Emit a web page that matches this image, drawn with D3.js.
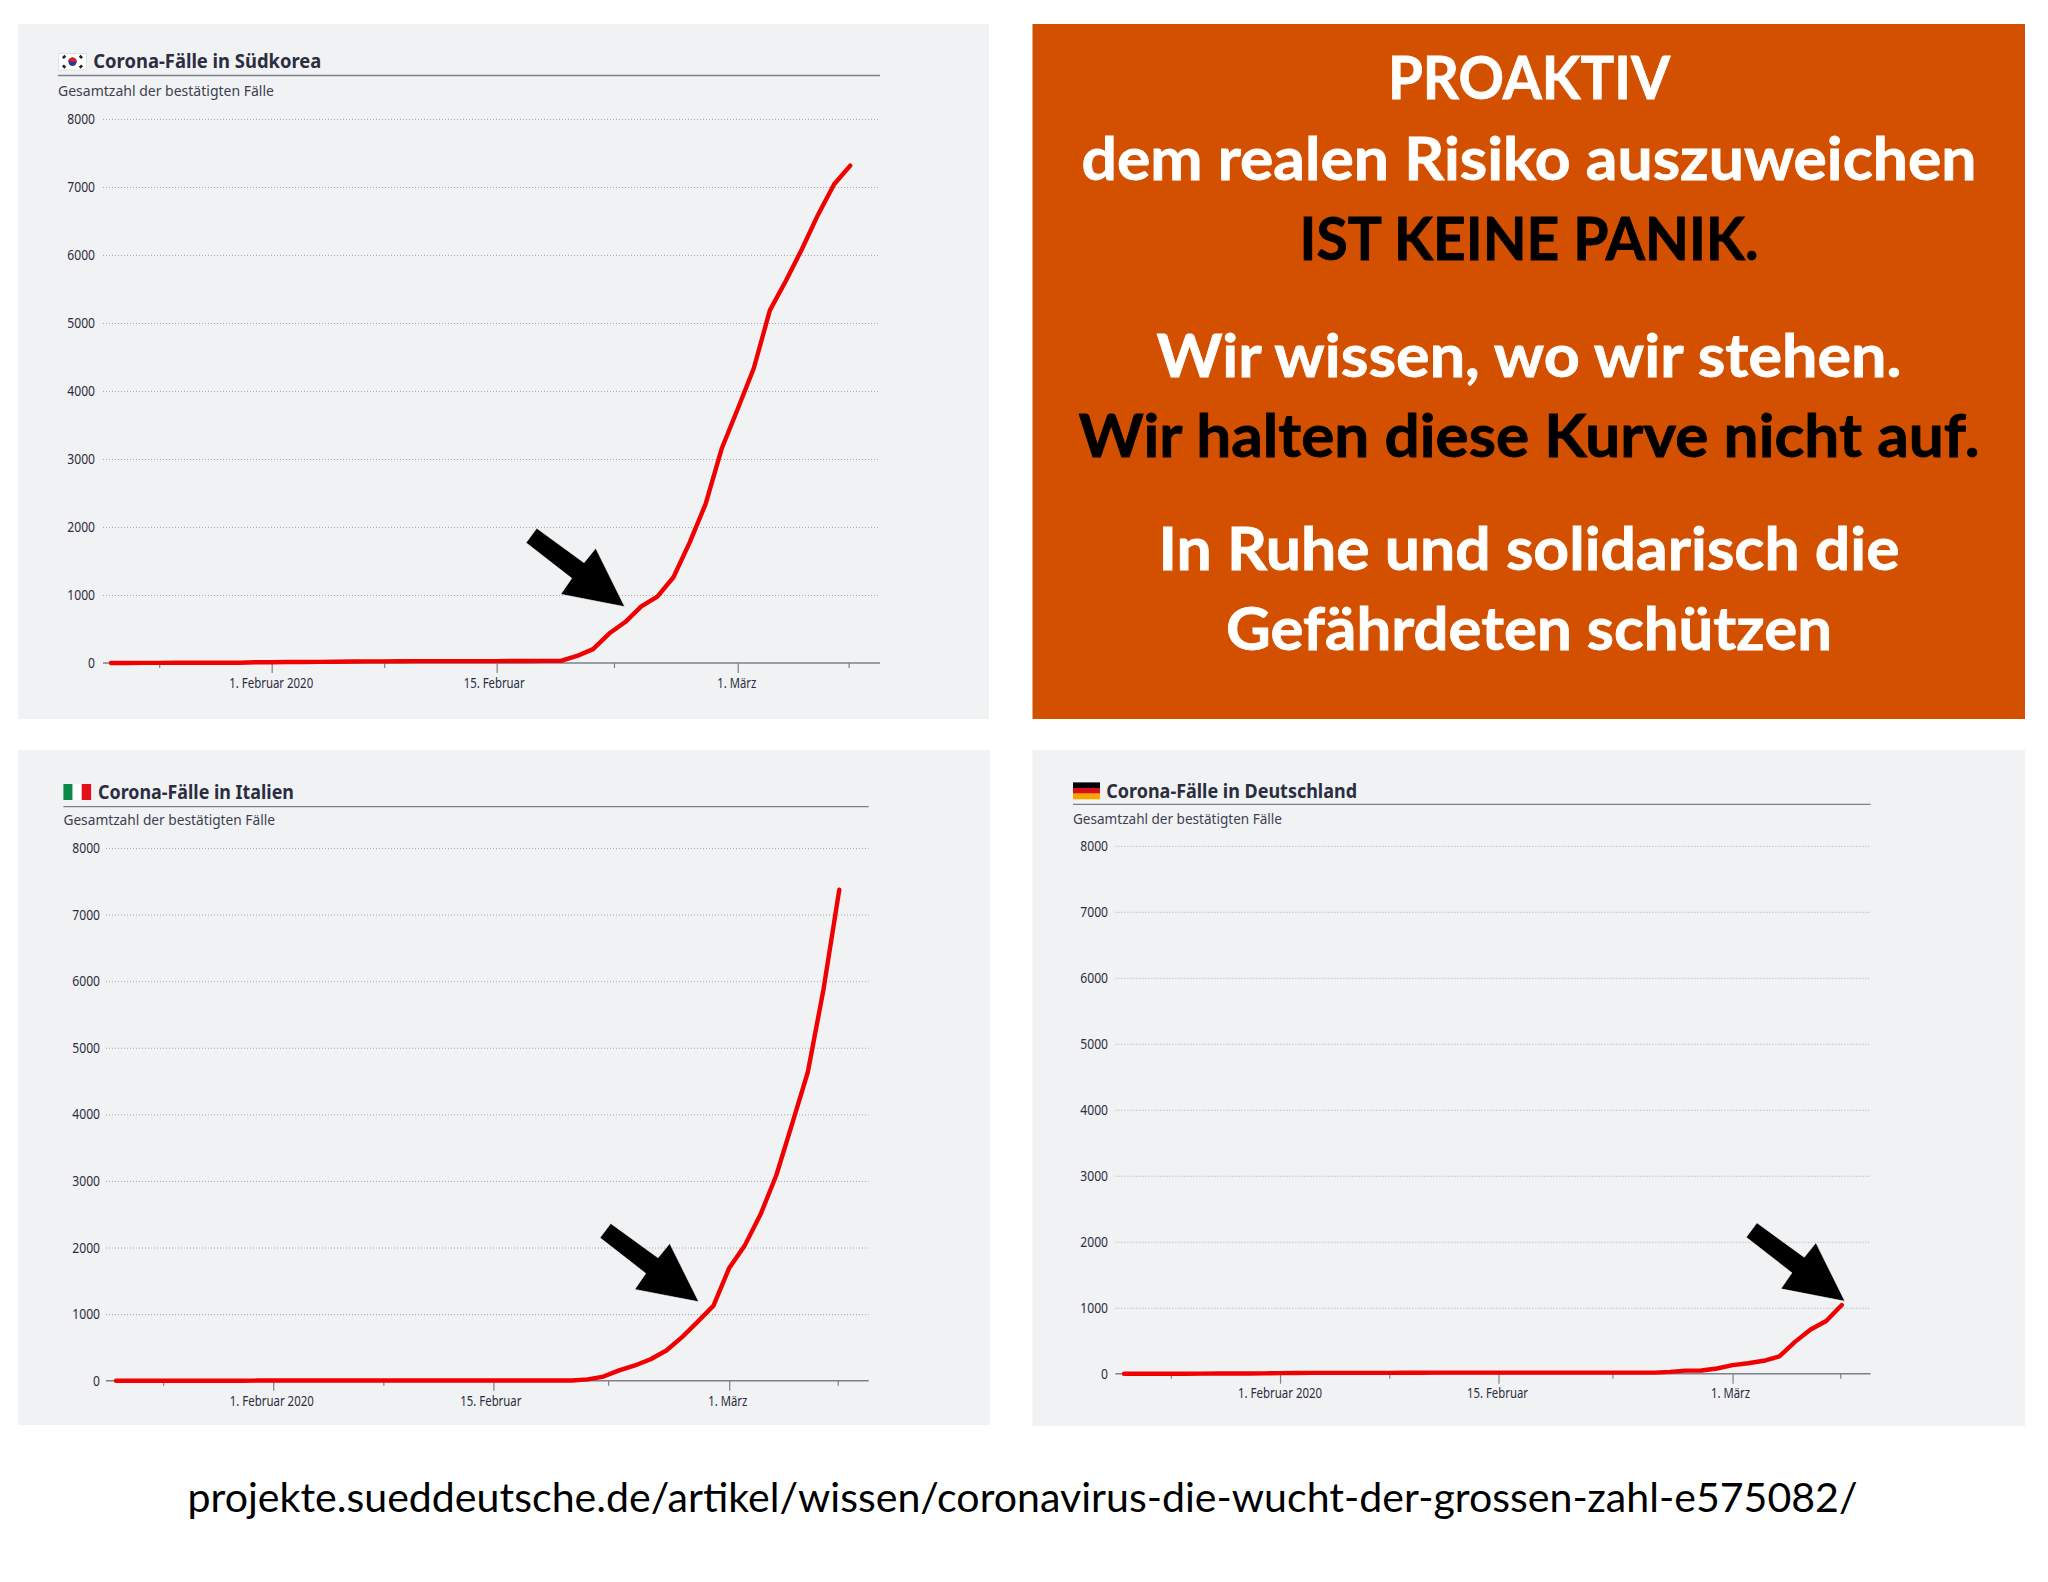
<!DOCTYPE html>
<html lang="de">
<head>
<meta charset="utf-8">
<title>Corona-Fälle</title>
<script src="https://cdnjs.cloudflare.com/ajax/libs/d3/7.8.5/d3.min.js"></script>
<style>
html,body{margin:0;padding:0;background:#fff}
svg{display:block}
</style>
</head>
<body>
<svg id="chart" width="2048" height="1582"></svg>
<script>
// ---- Data: total confirmed cases per day, starting 22 January 2020, ending 8 March 2020
const suedkorea = [1,1,2,2,3,4,4,4,4,11,12,15,15,16,19,23,24,24,25,27,28,28,28,28,28,29,30,31,31,104,204,433,602,833,977,1261,1766,2337,3150,3736,4335,5186,5621,6088,6593,7041,7314];
const italien = [0,0,0,0,0,0,0,0,0,2,2,2,2,2,2,2,3,3,3,3,3,3,3,3,3,3,3,3,3,3,20,62,155,229,322,453,655,888,1128,1694,2036,2502,3089,3858,4636,5883,7375];
const deutschland = [0,0,0,0,0,1,4,4,4,5,8,10,12,12,12,12,13,13,14,14,16,16,16,16,16,16,16,16,16,16,16,16,16,16,17,27,46,48,79,130,159,196,262,482,670,799,1040];

const yTicks = [0,1000,2000,3000,4000,5000,6000,7000,8000];
// tick positions in days since 22 January
const xTickDays = [3,10,17,24,31.3,39,45.9];
const xTickLabels = {10:"1. Februar 2020",24:"15. Februar",39:"1. März"};
const subtitle = "Gesamtzahl der bestätigten Fälle";
const titles = ["Corona-Fälle in Südkorea","Corona-Fälle in Italien","Corona-Fälle in Deutschland"];
const seriesList = [suedkorea,italien,deutschland];
const arrowTipDays = [31.97,37.06,46.2];
const arrowTipValues = [828,1185,1098];

const messageLines = ["PROAKTIV","dem realen Risiko auszuweichen","IST KEINE PANIK.","Wir wissen, wo wir stehen.","Wir halten diese Kurve nicht auf.","In Ruhe und solidarisch die","Gefährdeten schützen"];
const messageDark = [false,false,true,false,true,false,false];
const sourceText = "projekte.sueddeutsche.de/artikel/wissen/coronavirus-die-wucht-der-grossen-zahl-e575082/";

// ---- Layout
const layouts = [
 {flag:"kr",box:[18,24,971,695],gridL:103,right:880,lineL:111,lineR:850.2,y0:663,y8:119,
  ruleY:75.5,left:58,flagBox:[58.5,53.5,28,16.5],titleX:93.3,titleY:68,titleW:228,subY:95.7,subW:216,yLabelX:95,xLabelY:688,labelDx:[-1,-3,-1.5]},
 {flag:"it",box:[18,750,972,675],gridL:106,right:868.7,lineL:116,lineR:839.3,y0:1380.7,y8:848,
  ruleY:806.6,left:63.4,flagBox:[63.4,784,27.4,16],titleX:98,titleY:799,titleW:196,subY:825.4,subW:211.6,yLabelX:100,xLabelY:1406,labelDx:[-2,-3,-2]},
 {flag:"de",box:[1032.5,750,992.5,676],gridL:1115.4,right:1870.5,lineL:1124,lineR:1841.8,y0:1373.7,y8:845.8,
  ruleY:804.4,left:1073,flagBox:[1073,782.4,27,16.6],titleX:1106.3,titleY:797.5,titleW:250.7,subY:823.8,subW:209,yLabelX:1108,xLabelY:1398.4,labelDx:[-0.5,-1.5,-2.5]}
];
const messageLayout = {box:[1032.5,24,992.5,695],cx:1529,
  baselines:[99,180,260,376.6,457,569.6,650],widths:[282,895,459,745,901,741,606]};
const arrowShape = [[-88,-78.4],[-40.7,-44],[-29,-58.4],[0,0],[-64,-12.4],[-53,-28.4],[-98.7,-64]];
const xLabelWidths = {10:84,24:61,39:39};
const digitWidth = 6.93;

const INK="#2b2d40", AXIS="#7d808c", PANEL="#f1f2f4", TICKFONT="'Noto Sans',sans-serif";
const svg = d3.select("#chart");

function fitted(sel,w){return sel.attr("textLength",w).attr("lengthAdjust","spacingAndGlyphs");}

function drawFlag(g,kind,[x,y,w,h]){
  if(kind==="it"){
    const band=d3.scaleBand().domain([0,1,2]).range([x,x+w]);
    g.selectAll("rect.f").data(["#0a8a46","#ffffff","#e3101c"]).join("rect").attr("class","f")
      .attr("x",(d,i)=>band(i)).attr("y",y).attr("width",band.bandwidth()+.3).attr("height",h).attr("fill",d=>d);
  } else if(kind==="de"){
    const band=d3.scaleBand().domain([0,1,2]).range([y,y+h]);
    g.selectAll("rect.f").data(["#000000","#d8101c","#f7a600"]).join("rect").attr("class","f")
      .attr("x",x).attr("y",(d,i)=>band(i)).attr("width",w).attr("height",band.bandwidth()+.3).attr("fill",d=>d);
  } else {
    g.append("rect").attr("x",x).attr("y",y).attr("width",w).attr("height",h).attr("fill","#fff").attr("stroke","#d9dade").attr("stroke-width",.8);
    const cx=x+w/2,cy=y+h/2,r=4.2;
    g.append("circle").attr("cx",cx).attr("cy",cy).attr("r",r).attr("fill","#1f3f8f");
    g.append("path").attr("d",`M${cx-r},${cy-.6}A${r},${r} 0 0 1 ${cx+r},${cy+.6}Z`).attr("fill","#dc1c2e");
    [[-1,-1],[1,-1],[-1,1],[1,1]].forEach(([sx,sy])=>{
      g.append("line").attr("x1",cx+sx*7.2).attr("y1",cy+sy*6).attr("x2",cx+sx*9.6).attr("y2",cy+sy*3.6)
        .attr("stroke","#222").attr("stroke-width",2.6);
    });
  }
}

layouts.forEach((L,i)=>{
  const g=svg.append("g").attr("class","panel");
  g.append("rect").attr("x",L.box[0]).attr("y",L.box[1]).attr("width",L.box[2]).attr("height",L.box[3]).attr("fill",PANEL);
  const x=d3.scaleLinear().domain([0,46]).range([L.lineL,L.lineR]);
  const y=d3.scaleLinear().domain([0,8000]).range([L.y0,L.y8]);

  // header
  drawFlag(g.append("g"),L.flag,L.flagBox);
  fitted(g.append("text").attr("x",L.titleX).attr("y",L.titleY).attr("fill",INK)
    .attr("font-family","'Noto Sans',sans-serif").attr("font-weight",700).attr("font-size",19).text(titles[i]),L.titleW);
  g.append("line").attr("x1",L.left).attr("x2",L.right).attr("y1",L.ruleY).attr("y2",L.ruleY).attr("stroke",AXIS).attr("stroke-width",1.4);
  fitted(g.append("text").attr("x",L.left).attr("y",L.subY).attr("fill","#3d3f50")
    .attr("font-family","'Noto Sans',sans-serif").attr("font-size",15).text(subtitle),L.subW);

  // gridlines + y labels
  const yAxis=g.append("g").attr("transform",`translate(${L.gridL},0)`)
    .call(d3.axisLeft(y).tickValues(yTicks).tickSize(-(L.right-L.gridL)).tickPadding(L.gridL-L.yLabelX).tickFormat(d3.format("d")));
  yAxis.select(".domain").remove();
  yAxis.selectAll(".tick line").attr("stroke",d=>d===0?"none":"#a4a6ac").attr("stroke-width",1).attr("stroke-dasharray","1 2");
  yAxis.selectAll(".tick text").attr("fill",INK).attr("font-family",TICKFONT).attr("font-size",14.5)
    .attr("x",-(L.gridL-L.yLabelX))
    .each(function(d){fitted(d3.select(this),String(d).length*digitWidth);});

  // x axis
  const xAxis=g.append("g").attr("transform",`translate(0,${L.y0})`)
    .call(d3.axisBottom(x).tickValues(xTickDays).tickSize(5).tickPadding(12).tickFormat(d=>xTickLabels[d]||""));
  xAxis.select(".domain").attr("d",`M${L.gridL},0H${L.right}`).attr("stroke",AXIS).attr("stroke-width",1.5);
  xAxis.selectAll(".tick line").attr("stroke",AXIS).attr("stroke-width",1.2).attr("y2",d=>xTickLabels[d]?10:5);
  let li=0;
  xAxis.selectAll(".tick text").filter(d=>xTickLabels[d]).each(function(d){
    fitted(d3.select(this),xLabelWidths[d]).attr("x",L.labelDx[li++]).attr("y",L.xLabelY-L.y0).attr("dy",0);
  }).attr("fill",INK).attr("font-family",TICKFONT).attr("font-size",14.5);

  // the curve
  g.append("path").datum(seriesList[i]).attr("fill","none").attr("stroke","#f00000").attr("stroke-width",4.4)
    .attr("stroke-linejoin","round").attr("stroke-linecap","round")
    .attr("d",d3.line().x((d,k)=>x(k)).y(d=>y(d)));

  // arrow, anchored in chart coordinates
  const tx=x(arrowTipDays[i]),ty=y(arrowTipValues[i]);
  g.append("polygon").attr("fill","#000").attr("stroke","#fff").attr("stroke-width",.6)
    .attr("points",arrowShape.map(([a,b])=>[tx+a,ty+b].join(",")).join(" "));
});

// message panel
const M=messageLayout;
const mg=svg.append("g").attr("class","message");
mg.append("rect").attr("x",M.box[0]).attr("y",M.box[1]).attr("width",M.box[2]).attr("height",M.box[3]).attr("fill","#d35000");
messageLines.forEach((t,i)=>{
  const c=messageDark[i]?"#000":"#fff";
  fitted(mg.append("text").attr("x",M.cx).attr("y",M.baselines[i]).attr("text-anchor","middle")
    .attr("font-family","Lato,sans-serif").attr("font-weight",700).attr("font-size",60)
    .attr("fill",c).attr("stroke",c).attr("stroke-width",.8).text(t),M.widths[i]);
});

// source line
fitted(svg.append("text").attr("x",187.5).attr("y",1512).attr("fill","#000")
  .attr("font-family","Lato,sans-serif").attr("font-size",41).text(sourceText),1670);
</script>
</body>
</html>
